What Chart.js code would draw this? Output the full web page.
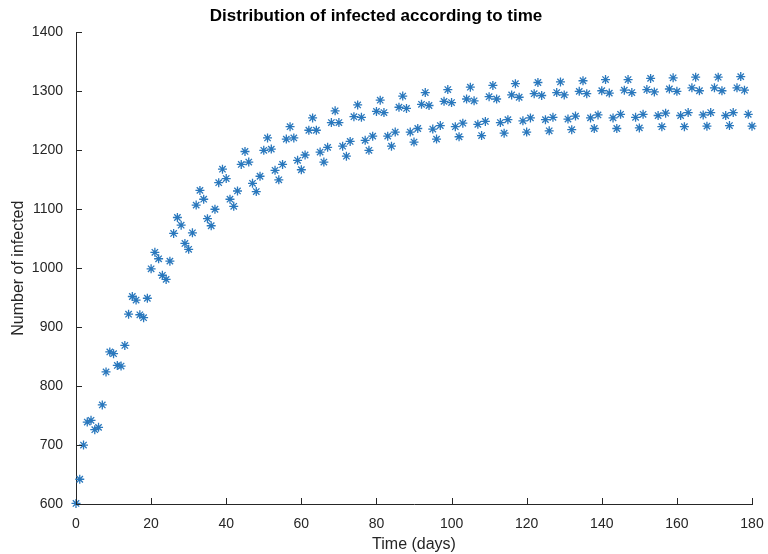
<!DOCTYPE html>
<html>
<head>
<meta charset="utf-8">
<script src="https://cdn.jsdelivr.net/npm/chart.js@4"></script>
<style>
  html, body { margin: 0; padding: 0; background: #fff; }
  canvas { display: block; }
</style>
</head>
<body>
<canvas id="chartInfectados" width="768" height="554"></canvas>
<script>
// Datos: un punto por día (0..180)
const dias = Array.from({ length: 181 }, (_, i) => i);
const infectados = [
  601, 642, 700, 739, 742, 726, 730, 768, 824, 858,
  855, 835, 834, 869, 922, 952, 946, 921, 916, 949,
  999, 1027, 1016, 988, 981, 1012, 1059, 1086, 1073, 1042,
  1032, 1060, 1107, 1132, 1117, 1084, 1072, 1100, 1145, 1168,
  1152, 1117, 1105, 1131, 1176, 1198, 1180, 1144, 1130, 1156,
  1200, 1221, 1202, 1166, 1150, 1176, 1219, 1240, 1221, 1183,
  1167, 1192, 1234, 1255, 1234, 1197, 1180, 1205, 1247, 1267,
  1247, 1207, 1190, 1215, 1257, 1277, 1256, 1217, 1200, 1224,
  1266, 1285, 1264, 1224, 1207, 1231, 1273, 1292, 1271, 1231,
  1214, 1237, 1278, 1298, 1276, 1236, 1219, 1242, 1283, 1303,
  1281, 1240, 1223, 1246, 1287, 1307, 1284, 1244, 1225, 1249,
  1291, 1310, 1287, 1247, 1229, 1252, 1294, 1313, 1290, 1250,
  1231, 1255, 1296, 1315, 1293, 1252, 1233, 1256, 1298, 1316,
  1294, 1253, 1235, 1258, 1300, 1318, 1296, 1255, 1237, 1260,
  1301, 1320, 1297, 1255, 1237, 1261, 1302, 1320, 1298, 1256,
  1238, 1261, 1303, 1322, 1299, 1259, 1240, 1263, 1304, 1323,
  1300, 1259, 1240, 1264, 1306, 1324, 1301, 1260, 1241, 1264,
  1306, 1324, 1301, 1259, 1242, 1264, 1306, 1325, 1302, 1261,
  1241
];
const ticksX = [0, 20, 40, 60, 80, 100, 120, 140, 160, 180];
const ticksY = [600, 700, 800, 900, 1000, 1100, 1200, 1300, 1400];

const colorEje = '#262626';
const fuente = 'Liberation Sans, Arial, Helvetica, sans-serif';

// Marcas de los ejes hacia dentro (estilo MATLAB)
const ticksHaciaDentro = {
  id: 'ticksHaciaDentro',
  afterDraw(chart) {
    const ctx = chart.ctx;
    const sx = chart.scales.x, sy = chart.scales.y;
    const area = chart.chartArea;
    ctx.save();
    ctx.strokeStyle = colorEje;
    ctx.lineWidth = 1;
    ctx.beginPath();
    ticksX.forEach(v => {
      const px = Math.round(sx.getPixelForValue(v)) + 0.5;
      ctx.moveTo(px, area.bottom);
      ctx.lineTo(px, area.bottom - 6);
    });
    ticksY.forEach(v => {
      const py = Math.round(sy.getPixelForValue(v)) + 0.5;
      ctx.moveTo(area.left, py);
      ctx.lineTo(area.left + 6, py);
    });
    ctx.stroke();
    ctx.restore();
  }
};

document.addEventListener("DOMContentLoaded", function() {
  const ctx = document.getElementById('chartInfectados').getContext('2d');
  new Chart(ctx, {
    type: 'scatter',
    data: {
      datasets: [{
        label: 'Infected',
        data: dias.map((d, i) => ({ x: d, y: infectados[i] })),
        pointStyle: 'star',
        pointRadius: 4.5,
        pointHoverRadius: 4.5,
        borderWidth: 1.3,
        borderColor: '#2a78bd',
        backgroundColor: '#2a78bd',
        clip: false
      }]
    },
    options: {
      responsive: false,
      animation: false,
      layout: { padding: { left: 0, right: 16, top: 0, bottom: 0 } },
      plugins: {
        legend: { display: false },
        tooltip: { enabled: false },
        title: {
          display: true,
          text: 'Distribution of infected according to time',
          color: '#000',
          font: { family: fuente, size: 17, weight: 'bold' },
          padding: { top: 6, bottom: 6 }
        }
      },
      scales: {
        x: {
          type: 'linear',
          min: 0,
          max: 180,
          afterBuildTicks: s => { s.ticks = ticksX.map(v => ({ value: v })); },
          afterFit: s => { s.height = 50; },
          grid: { display: false },
          border: { display: true, color: colorEje, width: 1 },
          ticks: {
            color: colorEje,
            padding: 4,
            maxRotation: 0,
            font: { family: fuente, size: 14 },
            callback: v => String(v)
          },
          title: {
            display: true,
            text: 'Time (days)',
            color: colorEje,
            padding: { top: 2, bottom: 0 },
            font: { family: fuente, size: 16 }
          }
        },
        y: {
          min: 600,
          max: 1400,
          afterBuildTicks: s => { s.ticks = ticksY.map(v => ({ value: v })); },
          afterFit: s => { s.width = 76; },
          grid: { display: false },
          border: { display: true, color: colorEje, width: 1 },
          ticks: {
            color: colorEje,
            padding: 5,
            font: { family: fuente, size: 14 },
            callback: v => String(v)
          },
          title: {
            display: true,
            text: 'Number of infected',
            color: colorEje,
            padding: { top: 9, bottom: 2 },
            font: { family: fuente, size: 16 }
          }
        }
      }
    },
    plugins: [ticksHaciaDentro]
  });
});
</script>
</body>
</html>
